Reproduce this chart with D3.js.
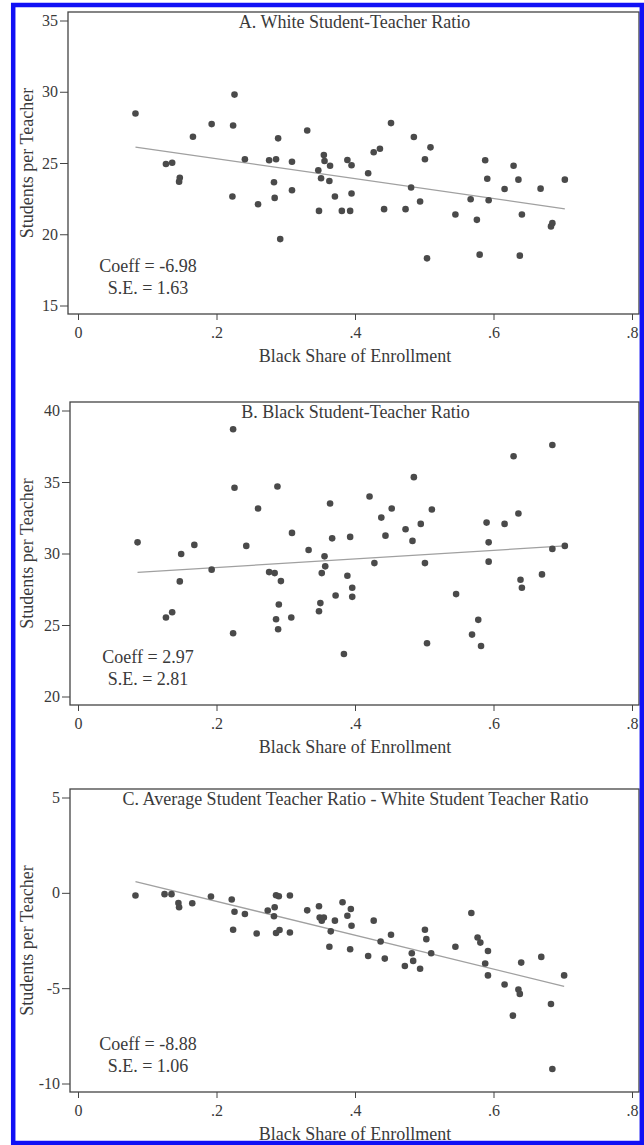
<!DOCTYPE html>
<html>
<head>
<meta charset="utf-8">
<script src="https://cdn.jsdelivr.net/npm/d3@7"></script>
<style>
  body { margin: 0; background: #fff; }
  svg text { font-family: "Liberation Serif", "Times New Roman", serif; fill: #3a3a3a; }
</style>
</head>
<body>
<svg id="chart" width="644" height="1145"></svg>
<script>
// Panel A: white student-teacher ratio
const shareA = [0.083,0.127,0.136,0.147,0.146,0.166,0.193,0.224,0.226,0.223,0.241,0.260,0.276,0.286,0.289,0.283,0.284,0.292,0.309,0.309,0.331,0.347,0.348,0.351,0.355,0.356,0.364,0.363,0.371,0.381,0.389,0.395,0.393,0.395,0.419,0.427,0.436,0.442,0.452,0.473,0.481,0.485,0.494,0.501,0.504,0.509,0.545,0.567,0.576,0.580,0.588,0.591,0.593,0.616,0.629,0.636,0.638,0.641,0.668,0.683,0.685,0.703];
const ratioA = [28.47,24.93,25.02,23.97,23.69,26.84,27.73,27.63,29.80,22.65,25.26,22.11,25.19,25.26,26.73,23.65,22.55,19.66,25.09,23.09,27.28,24.49,21.64,23.93,25.56,25.14,24.81,23.74,22.65,21.64,25.21,24.84,21.64,22.86,24.28,25.75,26.00,21.76,27.80,21.76,23.28,26.82,22.30,25.26,18.31,26.10,21.39,22.46,21.01,18.57,25.19,23.90,22.39,23.18,24.81,23.83,18.50,21.39,23.20,20.55,20.78,23.83];

// Panel B: black student-teacher ratio
const shareB = [0.086,0.127,0.136,0.149,0.147,0.168,0.193,0.224,0.226,0.224,0.243,0.260,0.276,0.284,0.288,0.286,0.289,0.290,0.293,0.308,0.309,0.333,0.348,0.350,0.352,0.356,0.357,0.364,0.367,0.372,0.384,0.389,0.393,0.396,0.396,0.421,0.428,0.438,0.444,0.453,0.473,0.483,0.485,0.495,0.501,0.504,0.511,0.546,0.569,0.578,0.582,0.590,0.593,0.593,0.616,0.629,0.636,0.639,0.641,0.670,0.685,0.685,0.703];
const ratioB = [30.78,25.52,25.89,29.96,28.05,30.60,28.87,38.69,34.60,24.42,30.53,33.15,28.70,28.63,34.69,25.40,24.70,26.43,28.07,25.52,31.44,30.25,25.96,26.53,28.63,29.80,29.10,33.50,31.06,27.06,22.97,28.44,31.16,27.60,26.97,33.99,29.33,32.51,31.25,33.15,31.70,30.88,35.34,32.07,29.33,23.72,33.08,27.16,24.33,25.36,23.53,32.16,30.78,29.43,32.07,36.80,32.80,28.16,27.60,28.54,37.59,30.32,30.53];

// Panel C: average minus white ratio
const shareC = [0.083,0.125,0.135,0.145,0.146,0.165,0.192,0.222,0.226,0.224,0.241,0.258,0.274,0.283,0.284,0.286,0.290,0.286,0.291,0.306,0.306,0.331,0.348,0.349,0.352,0.355,0.365,0.363,0.371,0.382,0.389,0.394,0.395,0.393,0.419,0.427,0.437,0.443,0.452,0.472,0.482,0.484,0.494,0.501,0.503,0.510,0.545,0.568,0.577,0.581,0.588,0.592,0.592,0.616,0.628,0.636,0.638,0.640,0.669,0.683,0.685,0.702];
const gapC = [-0.14,-0.07,-0.07,-0.53,-0.76,-0.55,-0.19,-0.35,-0.99,-1.94,-1.11,-2.13,-0.93,-1.23,-0.76,-0.13,-0.18,-2.11,-1.95,-0.14,-2.08,-0.92,-0.70,-1.29,-1.46,-1.29,-2.02,-2.83,-1.46,-0.49,-1.20,-0.85,-1.73,-2.96,-3.31,-1.46,-2.55,-3.45,-2.20,-3.84,-3.17,-3.57,-3.98,-1.94,-2.43,-3.17,-2.83,-1.06,-2.34,-2.61,-3.71,-3.05,-4.33,-4.81,-6.44,-5.07,-5.30,-3.66,-3.36,-5.83,-9.24,-4.33];

const xTicks = [0, 0.2, 0.4, 0.6, 0.8];
const yTicksA = [15, 20, 25, 30, 35];
const yTicksB = [20, 25, 30, 35, 40];
const yTicksC = [-10, -5, 0, 5];

const titles = ['A. White Student-Teacher Ratio', 'B. Black Student-Teacher Ratio',
  'C. Average Student Teacher Ratio - White Student Teacher Ratio'];
const coeffs = ['Coeff = -6.98', 'Coeff = 2.97', 'Coeff = -8.88'];
const stdErrs = ['S.E. = 1.63', 'S.E. = 2.81', 'S.E. = 1.06'];
const xTitle = 'Black Share of Enrollment';
const yTitle = 'Students per Teacher';

const svg = d3.select('#chart');
svg.append('rect').attr('width', 644).attr('height', 1145).attr('fill', '#fff');

const panels = [
  { x: shareA, y: ratioA, ticks: yTicksA, top: 12, bottom: 314, left: 68 },
  { x: shareB, y: ratioB, ticks: yTicksB, top: 402, bottom: 705, left: 70 },
  { x: shareC, y: gapC, ticks: yTicksC, top: 789, bottom: 1092, left: 70 }
];
const right = 639;

// stata style: ".2" and plain hyphen minus
const fmtX = d => d === 0 ? '0' : d3.format('.1f')(d).replace(/^0/, '');
const fmtY = d => String(d);

function ols(xs, ys) {
  const mx = d3.mean(xs), my = d3.mean(ys);
  const b = d3.sum(xs, (v, i) => (v - mx) * (ys[i] - my)) / d3.sum(xs, v => (v - mx) * (v - mx));
  return { b: b, a: my - b * mx };
}

panels.forEach((p, k) => {
  const g = svg.append('g');
  const x = d3.scaleLinear().domain([0, 0.8]).range([78, 632]);
  const y = d3.scaleLinear().domain(d3.extent(p.ticks)).range([p.bottom - 8.5, p.top + 8.5]);

  // frame
  g.append('rect')
      .attr('x', p.left).attr('y', p.top)
      .attr('width', right - p.left).attr('height', p.bottom - p.top)
      .attr('fill', 'none').attr('stroke', '#444').attr('stroke-width', 1.3);

  const yAxis = g.append('g')
      .attr('transform', `translate(${p.left},0)`)
      .call(d3.axisLeft(y).tickValues(p.ticks).tickSize(8).tickPadding(2).tickFormat(fmtY));
  yAxis.select('.domain').remove();
  yAxis.selectAll('line').attr('stroke', '#444');
  yAxis.selectAll('text').attr('font-size', 16).attr('fill', '#555').attr('font-family', null);

  const xAxis = g.append('g')
      .attr('transform', `translate(0,${p.bottom})`)
      .call(d3.axisBottom(x).tickValues(xTicks).tickSize(6).tickFormat(fmtX));
  xAxis.select('.domain').remove();
  xAxis.selectAll('line').attr('stroke', '#444');
  xAxis.selectAll('text').attr('font-size', 16).attr('fill', '#555').attr('font-family', null)
      .attr('dy', null).attr('y', 24);

  // fitted line
  const fit = ols(p.x, p.y);
  const ext = d3.extent(p.x);
  g.append('line')
      .attr('x1', x(ext[0])).attr('y1', y(fit.a + fit.b * ext[0]))
      .attr('x2', x(ext[1])).attr('y2', y(fit.a + fit.b * ext[1]))
      .attr('stroke', '#a0a0a0').attr('stroke-width', 1.3);

  g.append('g').selectAll('circle')
      .data(p.x)
      .join('circle')
      .attr('cx', d => x(d))
      .attr('cy', (d, i) => y(p.y[i]))
      .attr('r', 3.3)
      .attr('fill', '#4a4a4a');

  g.append('text')
      .attr('x', (p.left + right) / 2 + 1).attr('y', p.top + 16)
      .attr('text-anchor', 'middle').attr('font-size', 18)
      .text(titles[k]);

  g.append('text')
      .attr('x', 148).attr('y', p.bottom - 42)
      .attr('text-anchor', 'middle').attr('font-size', 18)
      .text(coeffs[k]);
  g.append('text')
      .attr('x', 148).attr('y', p.bottom - 20)
      .attr('text-anchor', 'middle').attr('font-size', 18)
      .text(stdErrs[k]);

  g.append('text')
      .attr('x', 355).attr('y', p.bottom + 48)
      .attr('text-anchor', 'middle').attr('font-size', 18)
      .text(xTitle);

  g.append('text')
      .attr('transform', `translate(33,${(p.top + p.bottom) / 2}) rotate(-90)`)
      .attr('text-anchor', 'middle').attr('font-size', 18)
      .text(yTitle);
});

// blue outer border
svg.append('rect')
    .attr('x', 13.2).attr('y', 5)
    .attr('width', 628.6).attr('height', 1138)
    .attr('fill', 'none').attr('stroke', '#1010f5').attr('stroke-width', 4.5);
</script>
</body>
</html>
